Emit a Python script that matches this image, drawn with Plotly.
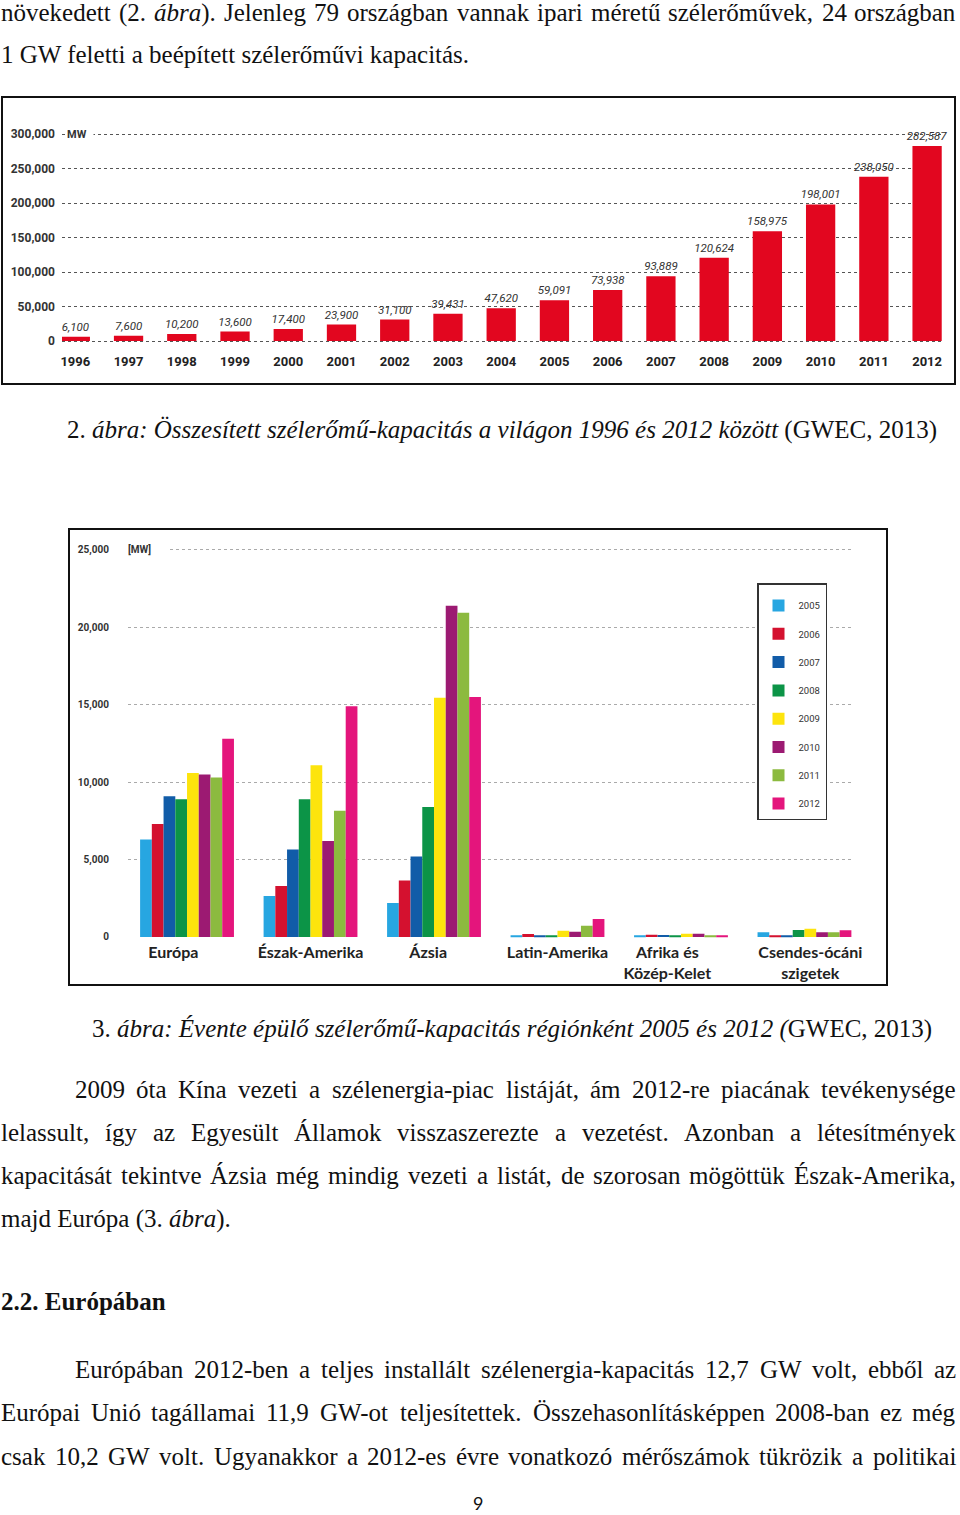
import unicodedata
import plotly.graph_objects as go

W, H = 960, 1515

# ---------------- data: chart 1 (cumulative capacity) ----------------
years_total = [str(y) for y in range(1996, 2013)]
capacity_total = [6100, 7600, 10200, 13600, 17400, 23900, 31100, 39431, 47620,
                  59091, 73938, 93889, 120624, 158975, 198001, 238050, 282587]
total_yticks = [0, 50000, 100000, 150000, 200000, 250000, 300000]

# ---------------- data: chart 2 (annual capacity by region) ----------------
regions = ["Európa", "Észak-Amerika", "Ázsia", "Latin-Amerika",
           "Afrika és Közép-Kelet", "Csendes-ócáni szigetek"]
NB = "&nbsp;"
region_ticktext = ["Európa" + NB * 7, "Észak-Amerika", "Ázsia" + NB * 3, "Latin-Amerika",
                   "Afrika és" + NB * 7 + "<br>Közép-Kelet" + NB * 7,
                   NB * 3 + "Csendes-ócáni<br>" + NB * 3 + "szigetek"]
annual_years = ["2005", "2006", "2007", "2008", "2009", "2010", "2011", "2012"]
annual_2005 = [6300, 2650, 2200, 60, 50, 310]
annual_2006 = [7300, 3300, 3650, 190, 150, 110]
annual_2007 = [9100, 5650, 5200, 60, 130, 90]
annual_2008 = [8900, 8900, 8400, 110, 60, 460]
annual_2009 = [10600, 11100, 15450, 410, 210, 540]
annual_2010 = [10500, 6200, 21400, 345, 210, 300]
annual_2011 = [10300, 8150, 20950, 730, 70, 300]
annual_2012 = [12800, 14900, 15500, 1160, 70, 430]
annual_values = [annual_2005, annual_2006, annual_2007, annual_2008,
                 annual_2009, annual_2010, annual_2011, annual_2012]
annual_colors = ["#27a6e1", "#d4112f", "#115ca8", "#0c9447",
                 "#fde40d", "#9c1a72", "#8cba3f", "#e4157c"]
annual_yticks = [0, 5000, 10000, 15000, 20000, 25000]

# ---------------- page text ----------------
top_lines = [
    ("növekedett (2. *ábra*). Jelenleg 79 országban vannak ipari méretű szélerőművek, 24 országban", 21, 1, 956),
    ("1 GW feletti a beépített szélerőművi kapacitás.", 63, 1, None),
]
caption1 = ("2. *ábra: Összesített szélerőmű-kapacitás a világon 1996 és 2012 között* (GWEC, 2013)", 438, 67)
caption2 = ("3. *ábra: Évente épülő szélerőmű-kapacitás régiónként 2005 és 2012 (*GWEC, 2013)", 1037, 92)
para1 = [
    ("2009 óta Kína vezeti a szélenergia-piac listáját, ám 2012-re piacának tevékenysége", 1098, 75, 956),
    ("lelassult, így az Egyesült Államok visszaszerezte a vezetést. Azonban a létesítmények", 1141, 1, 956),
    ("kapacitását tekintve Ázsia még mindig vezeti a listát, de szorosan mögöttük Észak-Amerika,", 1184, 1, 956),
    ("majd Európa (3. *ábra*).", 1227, 1, None),
]
heading = ("2.2. Európában", 1310, 1)
para2 = [
    ("Európában 2012-ben a teljes installált szélenergia-kapacitás 12,7 GW volt, ebből az", 1378, 75, 956),
    ("Európai Unió tagállamai 11,9 GW-ot teljesítettek. Összehasonlításképpen 2008-ban ez még", 1421, 1, 956),
    ("csak 10,2 GW volt. Ugyanakkor a 2012-es évre vonatkozó mérőszámok tükrözik a politikai", 1465, 1, 956),
]
page_number = "9"

SERIF = "Liberation Serif, Times New Roman, serif"
COND = "Roboto, Liberation Sans Narrow, sans-serif"
SANS = "Lato, Open Sans, sans-serif"
FS = 25

# Times metrics (per 1000 em) for text layout
_R = dict(zip(" ()-,.:;0123456789", [250, 333, 333, 333, 250, 250, 278, 278] + [500] * 10))
_R.update(dict(zip("ABCDEFGHIJKLMNOPQRSTUVWXYZ",
                   [722, 667, 667, 722, 611, 556, 722, 722, 333, 389, 722, 611, 889, 722, 722, 556, 722, 667, 556, 611, 722, 722, 944, 722, 722, 611])))
_R.update(dict(zip("abcdefghijklmnopqrstuvwxyz",
                   [444, 500, 444, 500, 444, 333, 500, 500, 278, 278, 500, 278, 778, 500, 500, 500, 500, 333, 389, 278, 500, 500, 722, 500, 500, 444])))
_I = dict(zip(" ()-,.:;0123456789", [250, 333, 333, 333, 250, 250, 333, 333] + [500] * 10))
_I.update(dict(zip("ABCDEFGHIJKLMNOPQRSTUVWXYZ",
                   [611, 611, 667, 722, 611, 611, 722, 722, 333, 444, 667, 556, 833, 667, 722, 611, 722, 611, 500, 556, 722, 611, 833, 611, 556, 556])))
_I.update(dict(zip("abcdefghijklmnopqrstuvwxyz",
                   [500, 500, 444, 500, 444, 278, 500, 500, 278, 278, 444, 278, 722, 500, 500, 500, 500, 389, 389, 278, 500, 444, 667, 444, 444, 389])))


def cw(ch, table):
    if ch in table:
        return table[ch]
    base = unicodedata.normalize("NFD", ch)[0]
    return table.get(base, 500)


def parse_words(line):
    words, cur, buf, italic = [], [], "", False
    for ch in line:
        if ch == "*":
            if buf:
                cur.append((buf, italic))
                buf = ""
            italic = not italic
        elif ch == " ":
            if buf:
                cur.append((buf, italic))
                buf = ""
            if cur:
                words.append(cur)
            cur = []
        else:
            buf += ch
    if buf:
        cur.append((buf, italic))
    if cur:
        words.append(cur)
    return words


def seg_width(segs, fs):
    return sum(cw(c, _I if it else _R) for s, it in segs for c in s) * fs / 1000.0


def seg_html(segs):
    return "".join("<i>%s</i>" % s if it else s for s, it in segs)


def px(p):
    return p / W


def py(p):
    return 1 - p / H


fig = go.Figure()

annotations = []


def text_ann(html, x, baseline, fs=FS, anchor="left", family=SERIF):
    annotations.append(dict(
        x=px(x), y=py(baseline - 0.3375 * fs), xref="paper", yref="paper",
        text=html, showarrow=False, xanchor=anchor, yanchor="middle",
        font=dict(family=family, size=fs, color="#111"), borderpad=0, borderwidth=0))


def add_line(line, baseline, x0, x1=None):
    words = parse_words(line)
    if x1 is None:
        html = " ".join(seg_html(w) for w in words)
        text_ann(html, x0, baseline)
        return
    widths = [seg_width(w, FS) for w in words]
    gap = (x1 - x0 - sum(widths)) / (len(words) - 1)
    x = x0
    for i, (w, wd) in enumerate(zip(words, widths)):
        if i == len(words) - 1:
            text_ann(seg_html(w), x1, baseline, anchor="right")
        else:
            text_ann(seg_html(w), x, baseline)
        x += wd + gap


for ln in top_lines + para1 + para2:
    add_line(*ln)
add_line(caption1[0], caption1[1], caption1[2])
add_line(caption2[0], caption2[1], caption2[2])
text_ann("<b>%s</b>" % heading[0], heading[2], heading[1])
text_ann(page_number, 478, 1509, fs=18, anchor="center", family=SANS)


def y_domain(v0, p0, v1, p1, lo, hi):
    k = (p1 - p0) / (v1 - v0)
    return [py(p0 + (lo - v0) * k), py(p0 + (hi - v0) * k)]


# ---------------- chart 1 ----------------
fig.add_trace(go.Bar(
    x=years_total, y=capacity_total, xaxis="x", yaxis="y",
    marker=dict(color="#e2061f", line=dict(width=0)), width=0.55,
    texttemplate="%{y:,}", textposition="outside", textangle=0,
    constraintext="none", cliponaxis=False,
    textfont=dict(family=COND, size=11.5, color="#333", style="italic"),
    showlegend=False, hoverinfo="x+y"))

# ---------------- chart 2 ----------------
for yr, vals, col in zip(annual_years, annual_values, annual_colors):
    fig.add_trace(go.Bar(
        x=regions, y=vals, name=yr, xaxis="x2", yaxis="y2",
        marker=dict(color=col, line=dict(width=0)), legendgroup=yr))

fig.update_layout(
    width=W, height=H, margin=dict(l=0, r=0, t=0, b=0, pad=0, autoexpand=False),
    paper_bgcolor="white", plot_bgcolor="rgba(0,0,0,0)",
    barmode="group", bargap=0.24, bargroupgap=0,
    xaxis=dict(domain=[px(62), px(942)], range=[-0.25, 16.28], type="category",
               anchor="y", showgrid=False, showline=False, zeroline=False, ticks="",
               tickfont=dict(family=COND, size=13, color="#222", weight="bold"),
               ticklabelstandoff=8, automargin=False),
    yaxis=dict(domain=y_domain(0, 341, 300000, 134, -4000, 302000), range=[-4000, 302000],
               anchor="x", tickvals=total_yticks, tickformat=",d", showgrid=True,
               gridcolor="#555", griddash="dot", gridwidth=1.3, zeroline=False,
               showline=False, ticks="",
               tickfont=dict(family=COND, size=12, color="#333", weight="bold"),
               ticklabelstandoff=6, automargin=False),
    xaxis2=dict(domain=[px(128), px(853)], range=[-0.478, 5.393], type="category",
                anchor="y2", showgrid=False, showline=False, zeroline=False, ticks="",
                tickvals=regions, ticktext=region_ticktext,
                tickfont=dict(family=SANS, size=16, color="#222", weight="bold"),
                ticklabelstandoff=2, automargin=False),
    yaxis2=dict(domain=y_domain(0, 937, 25000, 550, -150, 25300), range=[-150, 25300],
                anchor="x2", tickvals=annual_yticks, tickformat=",d", showgrid=True,
                gridcolor="#aaa", griddash="dot", gridwidth=1.2,
                zeroline=True, zerolinecolor="rgba(0,0,0,0)", showline=False, ticks="",
                tickfont=dict(family=COND, size=10, color="#333", weight="bold"),
                ticklabelstandoff=18, automargin=False),
    legend=dict(x=px(757), y=py(583), xanchor="left", yanchor="top",
                bordercolor="#333", borderwidth=1.5, bgcolor="white",
                font=dict(family=COND, size=9.5, color="#333"),
                title=dict(text=" ", font=dict(size=5)),
                tracegroupgap=9.3, traceorder="grouped", itemwidth=30),
    showlegend=True,
)

annotations.append(dict(x=px(65), y=py(134), xref="paper", yref="paper", text="<b>MW</b>",
                        showarrow=False, xanchor="left", yanchor="middle", width=25, align="left",
                        bgcolor="white", borderpad=1,
                        font=dict(family=COND, size=11, color="#333")))
annotations.append(dict(x=px(126), y=py(550), xref="paper", yref="paper", text="<b>[MW]</b>",
                        showarrow=False, xanchor="left", yanchor="middle", width=40, align="left",
                        bgcolor="white", borderpad=1,
                        font=dict(family=COND, size=10, color="#333")))
fig.update_layout(annotations=annotations)

fig.add_shape(type="rect", xref="paper", yref="paper", x0=px(2), x1=px(955), y0=py(97), y1=py(384),
              line=dict(color="#111", width=2), fillcolor="rgba(0,0,0,0)", layer="above")
fig.add_shape(type="rect", xref="paper", yref="paper", x0=px(69), x1=px(887), y0=py(529), y1=py(985),
              line=dict(color="#111", width=2), fillcolor="rgba(0,0,0,0)", layer="above")

fig.write_html("out.html")
